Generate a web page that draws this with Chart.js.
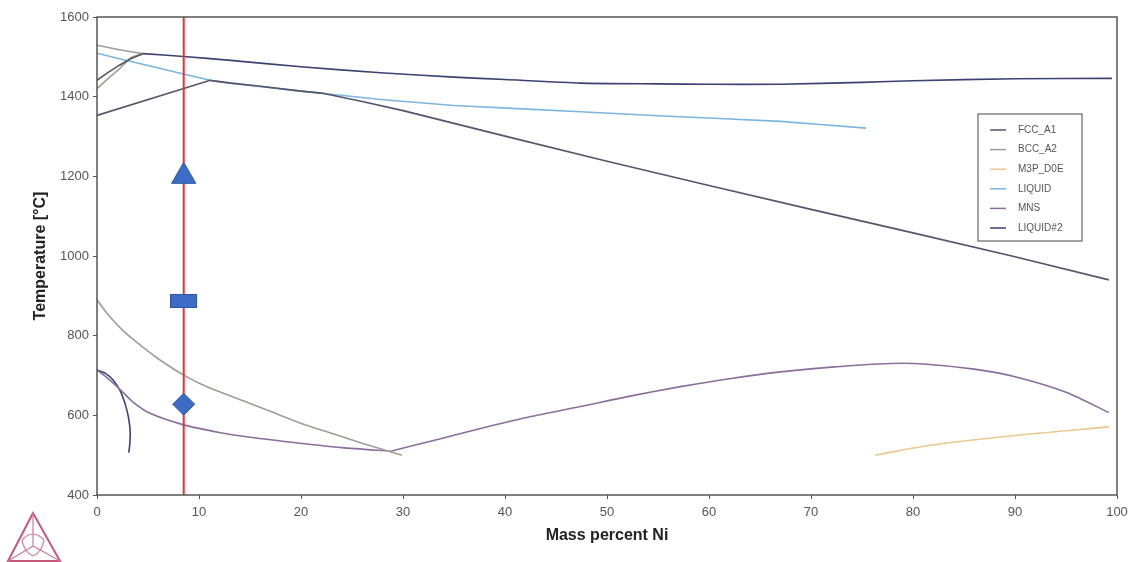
<!DOCTYPE html>
<html><head><meta charset="utf-8">
<script src="https://cdn.jsdelivr.net/npm/chart.js@4.4.0/dist/chart.umd.min.js"></script>
<style>html,body{margin:0;padding:0;background:#fff;}#wrap{width:1135px;height:562px;}</style>
</head><body><div id="wrap"><canvas id="c" width="1135" height="562"></canvas></div>
<script>
// ---- data (mass percent Ni, temperature °C); null separates line segments ----
const phaseNames = ['FCC_A1', 'BCC_A2', 'M3P_D0E', 'LIQUID', 'MNS', 'LIQUID#2'];

const fccA1_x = [0, 11.1, 13.1, 16, 20, 22, 26, 30, 40, 50, 60, 70, 80, 90, 99.2, null, 0, 1.1, 2.2, 3.3, 4.5];
const fccA1_T = [1353, 1441, 1434, 1426, 1414, 1409, 1388, 1365, 1301, 1238, 1177, 1117, 1058, 998, 940, null, 1441, 1461, 1479, 1495, 1508];

const bccA2_x = [0, 2.2, 4.5, null, 0, 1.1, 2.2, 3.3, 4.5, null, 0, 0.8, 1.6, 2.5, 4, 6, 8.5, 11, 14.4, 17, 19.9, 23, 26, 29.9];
const bccA2_T = [1529, 1518, 1508, null, 1420, 1446, 1470, 1497, 1508, null, 890, 862, 838, 814, 781, 742, 701, 669, 636, 610, 581, 555, 530, 500];

const m3p_x = [76.3, 81.7, 90.2, 99.2];
const m3p_T = [500, 525, 550, 571];

const liquid_x = [0, 5, 11.1, 13.1, 20, 27.8, 35, 47.4, 55, 67, 75.4];
const liquid_T = [1509, 1478, 1441, 1434, 1414, 1393, 1378, 1362, 1352, 1338, 1321];

const mns_x = [0, 1, 2.3, 3.5, 5.2, 8.5, 12, 15, 19.9, 24, 28.8, null, 28.8, 33, 37.6, 42, 47.4, 52, 57.2, 62, 67, 72, 77.8, 81, 86, 90, 95, 99.2];
const mns_T = [714, 694, 664, 634, 605, 576, 557, 545, 530, 519, 510, null, 510, 537, 567, 594, 622, 647, 672, 692, 709, 721, 730, 729, 716, 697, 658, 607];

const liq2_x = [4.5, 8.5, 13.1, 20, 27.8, 35, 40, 47.4, 55, 60, 67, 75, 80, 90, 99.5, null, 0, 0.8, 1.6, 2.3, 2.8, 3.1, 3.25, 3.22, 3.12];
const liq2_T = [1508, 1501, 1491, 1475, 1460, 1449, 1443, 1434, 1432, 1431, 1431, 1436, 1440, 1445, 1446, null, 714, 706, 688, 660, 625, 593, 560, 530, 506];

const sectionX = [8.5, 8.5];
const sectionT = [400, 1600];

const markerX = [8.5, 8.5, 8.5];
const markerT = [1200, 887, 628];

const xTicks = [0, 10, 20, 30, 40, 50, 60, 70, 80, 90, 100];
const yTicks = [400, 600, 800, 1000, 1200, 1400, 1600];

// ---- build ----
function pts(xs, ts) { return xs.map((x, i) => ({ x: x === null ? 0 : x, y: ts[i] })); }

const phaseColors = ['#55556a', '#a19d92', '#ebc98f', '#7ab6e0', '#8a6e9c', '#3c4272'];
const phaseTension = [0, 0.2, 0.3, 0.1, 0.25, 0.2];
const phaseData = [
  pts(fccA1_x, fccA1_T), pts(bccA2_x, bccA2_T), pts(m3p_x, m3p_T),
  pts(liquid_x, liquid_T), pts(mns_x, mns_T), pts(liq2_x, liq2_T)
];

const rectImg = document.createElement('canvas');
rectImg.width = 27; rectImg.height = 14;
(function () {
  const g = rectImg.getContext('2d');
  g.fillStyle = '#3d6cc6'; g.fillRect(0, 0, 27, 14);
  g.strokeStyle = '#2c58a8'; g.lineWidth = 1; g.strokeRect(0.5, 0.5, 26, 13);
})();

const datasets = phaseNames.map((n, i) => ({
  label: n, data: phaseData[i], borderColor: phaseColors[i], backgroundColor: phaseColors[i],
  borderWidth: 1.6, pointRadius: 0, tension: phaseTension[i], spanGaps: false, fill: false, order: 3
}));
datasets.push({
  label: 'section', data: pts(sectionX, sectionT), borderColor: '#e8323a', borderWidth: 2,
  pointRadius: 0, tension: 0, order: 2
});
datasets.push({
  label: 'markers', data: pts(markerX, markerT), showLine: false,
  pointStyle: ['triangle', rectImg, 'rectRot'], pointRadius: [14, 10, 11],
  pointBackgroundColor: '#3d6cc6', pointBorderColor: '#2c58a8', pointBorderWidth: 1, order: 1
});

const FONT = "'Liberation Sans', Arial, sans-serif";

const framePlugin = {
  id: 'frame',
  afterDraw(chart) {
    const { ctx, chartArea: a } = chart;
    ctx.save();
    ctx.strokeStyle = '#555'; ctx.lineWidth = 1.5;
    ctx.strokeRect(a.left, a.top, a.right - a.left, a.bottom - a.top);
    // legend
    const lx = 978, ly = 114, lw = 104, lh = 127;
    ctx.fillStyle = '#fff'; ctx.fillRect(lx, ly, lw, lh);
    ctx.strokeStyle = '#666'; ctx.lineWidth = 1.2; ctx.strokeRect(lx, ly, lw, lh);
    ctx.font = '10px ' + FONT; ctx.textBaseline = 'middle'; ctx.textAlign = 'left';
    phaseNames.forEach((n, i) => {
      const y = 130 + i * 19.6;
      ctx.strokeStyle = phaseColors[i]; ctx.lineWidth = 1.5;
      ctx.beginPath(); ctx.moveTo(990, y); ctx.lineTo(1006, y); ctx.stroke();
      ctx.fillStyle = '#555'; ctx.fillText(n, 1018, y);
    });
    // logo
    ctx.strokeStyle = '#c5577a'; ctx.lineWidth = 2;
    ctx.beginPath(); ctx.moveTo(33, 513); ctx.lineTo(8, 561); ctx.lineTo(60, 561); ctx.closePath(); ctx.stroke();
    ctx.lineWidth = 1.2; ctx.strokeStyle = '#d27a96';
    ctx.beginPath();
    ctx.moveTo(33, 513); ctx.lineTo(33, 546);
    ctx.moveTo(8, 561); ctx.lineTo(33, 546); ctx.lineTo(60, 561);
    ctx.moveTo(22, 540); ctx.quadraticCurveTo(33, 528, 44, 540);
    ctx.moveTo(22, 540); ctx.quadraticCurveTo(24, 552, 33, 556);
    ctx.moveTo(44, 540); ctx.quadraticCurveTo(42, 552, 33, 556);
    ctx.stroke();
    ctx.restore();
  }
};

new Chart(document.getElementById('c'), {
  type: 'line',
  data: { datasets },
  options: {
    responsive: false, animation: false, devicePixelRatio: 1,
    layout: { padding: { left: 0, right: 18, top: 17, bottom: 0 } },
    plugins: { legend: { display: false }, tooltip: { enabled: false } },
    scales: {
      x: {
        type: 'linear', min: 0, max: 100,
        afterFit(s) { s.height = 67; },
        afterBuildTicks(s) { s.ticks = xTicks.map(v => ({ value: v })); },
        ticks: { color: '#555', font: { family: FONT, size: 13 }, padding: 6, callback: v => String(v) },
        grid: { drawOnChartArea: false, drawTicks: true, tickLength: 4, color: '#555' },
        border: { display: false },
        title: { display: true, text: 'Mass percent Ni', color: '#222', font: { family: FONT, size: 16, weight: 'bold' }, padding: { top: 0, bottom: 17 } }
      },
      y: {
        type: 'linear', min: 400, max: 1600,
        afterFit(s) { s.width = 97; },
        afterBuildTicks(s) { s.ticks = yTicks.map(v => ({ value: v })); },
        ticks: { color: '#555', font: { family: FONT, size: 13 }, padding: 4, callback: v => String(v) },
        grid: { drawOnChartArea: false, drawTicks: true, tickLength: 4, color: '#555' },
        border: { display: false },
        title: { display: true, text: 'Temperature [°C]', color: '#222', font: { family: FONT, size: 16, weight: 'bold' }, padding: { top: 31, bottom: 0 } }
      }
    }
  },
  plugins: [framePlugin]
});
</script></body></html>
